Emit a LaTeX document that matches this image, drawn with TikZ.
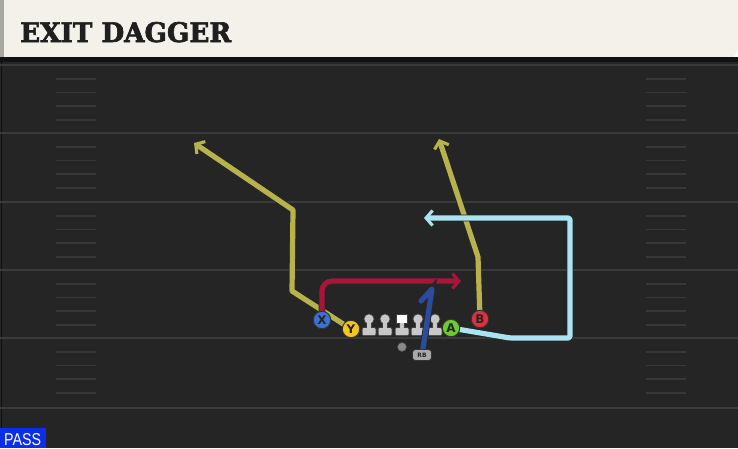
\documentclass[tikz,border=0pt]{standalone}
\usepackage{fontspec}
\usepackage{graphicx}
\usetikzlibrary{arrows.meta}
\newfontfamily\titlefont[FakeBold=2.5]{DejaVu Serif Bold}
\newfontfamily\lblfont{DejaVu Sans}
\newfontfamily\passfont{Liberation Sans}
\definecolor{fieldbg}{HTML}{252525}
\definecolor{fieldline}{HTML}{3A3A3A}
\definecolor{hashcol}{HTML}{383838}
\definecolor{cream}{HTML}{F4F1EA}
\definecolor{creamedge}{HTML}{A8A8A2}
\definecolor{bandcol}{HTML}{121212}
\definecolor{passblue}{HTML}{0B2EE8}
\definecolor{olive}{HTML}{B7B24B}
\definecolor{crimson}{HTML}{A5163A}
\definecolor{skyline}{HTML}{A9E4F2}
\definecolor{rbblue}{HTML}{2B4C9B}
\definecolor{xblue}{HTML}{3B70D8}
\definecolor{yyellow}{HTML}{F4C61C}
\definecolor{agreen}{HTML}{6CCB2E}
\definecolor{bred}{HTML}{E0303F}
\definecolor{lmcol}{HTML}{C8C8C8}
\definecolor{qbcol}{HTML}{8A8A8A}
\pgfdeclarelayer{field}
\pgfdeclarelayer{routes}
\pgfsetlayers{field,routes,main}
\tikzset{
  route/.style={draw=#1, line width=5.2pt, line join=round,
    preaction={draw=black!85, line width=6.8pt}},
  tipped/.style={-{Straight Barb[length=6.5pt,width=15pt,line width=0pt 0.6]}},
  player/.style={circle, fill=#1, draw=black!80, line width=1pt,
    minimum size=17.5pt, inner sep=0pt, text=black!85,
    font=\lblfont\bfseries\fontsize{12}{12}\selectfont},
  fieldstripe/.style={draw=fieldline, line width=2.6pt},
  hashmark/.style={draw=hashcol, line width=1.8pt},
  lineman/.pic={
    \fill[black!75] (0,-2) circle (5.6);
    \fill[black!75] (-3.2,0) rectangle (3.2,9);
    \fill[black!75, rounded corners=1.5] (-7.5,6) rectangle (7.5,15);
    \fill[lmcol] (0,-2) circle (4.6);
    \fill[lmcol] (-2.3,0) rectangle (2.3,9);
    \fill[lmcol, rounded corners=1] (-6.5,7) rectangle (6.5,14);
  },
  centerman/.pic={
    \fill[black!75] (-6,-7) rectangle (6,3);
    \fill[black!75] (-3.2,0) rectangle (3.2,9);
    \fill[black!75, rounded corners=1.5] (-7.5,6) rectangle (7.5,15);
    \fill[white] (-5,-6) rectangle (5,2);
    \fill[lmcol] (-2.3,2) rectangle (2.3,9);
    \fill[lmcol, rounded corners=1] (-6.5,7) rectangle (6.5,14);
  },
}
\begin{document}
\begin{tikzpicture}[x=1pt,y=-1pt]
\useasboundingbox (0,0) rectangle (738,448);
\begin{pgfonlayer}{field}
  % field
  \fill[fieldbg] (0,57) rectangle (738,448);
  \draw[black!60!fieldbg, line width=1pt] (1,62) -- (1,448);
  \foreach \yy in {65,133,202,270,338,408}
    \draw[fieldstripe] (0,\yy) -- (738,\yy);
  \foreach \yy in {65,133,202,270,338}
    \foreach \dd in {14,27.5,41,55} {
      \draw[hashmark] (56,\yy+\dd) -- (96,\yy+\dd);
      \draw[hashmark] (646,\yy+\dd) -- (686,\yy+\dd);
    }
  % title bar
  \fill[creamedge] (0,0) rectangle (4,57);
  \fill[cream] (4,0) -- (738,0) -- (738,50) -- (734,57) -- (4,57) -- cycle;
  \fill[bandcol] (0,57) rectangle (738,62);
  % linemen
  \pic at (369,321) {lineman};
  \pic at (385,321) {lineman};
  \pic at (402,321) {centerman};
  \pic at (418,321) {lineman};
  \pic at (435,321) {lineman};
\end{pgfonlayer}

\node[anchor=base west, inner sep=0pt, text=black!88] (title) at (20,42)
  {\resizebox{211pt}{20pt}{\titlefont EXIT DAGGER}};
\fill[passblue] (0,428) rectangle (46,448);
\node[anchor=base west, inner sep=0pt, text=white] (pass) at (4,445)
  {\resizebox{37pt}{12pt}{\passfont PASS}};

% players
\node[player=xblue] (X) at (322,320) {X};
\node[player=yyellow] (Y) at (351,329) {Y};
\node[player=agreen] (A) at (451,328) {A};
\node[player=bred] (B) at (480,319) {B};
\node[circle, fill=qbcol, draw=black!70, line width=0.6pt, minimum size=9pt, inner sep=0pt] (QB) at (402,347) {};
\node[rounded corners=3pt, fill=lmcol!85!black, draw=black!80, line width=0.8pt,
  minimum width=19pt, minimum height=11pt, inner sep=0pt, text=black!85,
  font=\lblfont\bfseries\fontsize{6}{6}\selectfont] (RB) at (422,355) {RB};

% waypoints
\coordinate (y1) at (292,291);
\coordinate (y2) at (293,210);
\coordinate (y3) at (194,143);
\coordinate (b1) at (478,257);
\coordinate (b2) at (439,139);
\coordinate (x1) at (322,281);
\coordinate (x2) at (461,281);
\coordinate (a1) at (510,338);
\coordinate (a2) at (570,338);
\coordinate (a3) at (570,218);
\coordinate (a4) at (424,218);
\coordinate (r1) at (432,289);
\coordinate (r2) at (421,301);

\begin{pgfonlayer}{routes}
  \draw[route=olive, tipped] (Y.center) -- (y1) -- (y2) -- (y3);
  \draw[route=olive, tipped] (B.center) -- (b1) -- (b2);
  \draw[route=crimson, tipped, rounded corners=10pt] (X.center) -- (x1) -- (x2);
  \draw[route=skyline, tipped, rounded corners=2pt] (A.center) -- (a1) -- (a2) -- (a3) -- (a4);
  \draw[route=rbblue, line cap=round] (RB.center) -- (r1) -- (r2);
\end{pgfonlayer}
\end{tikzpicture}
\end{document}
